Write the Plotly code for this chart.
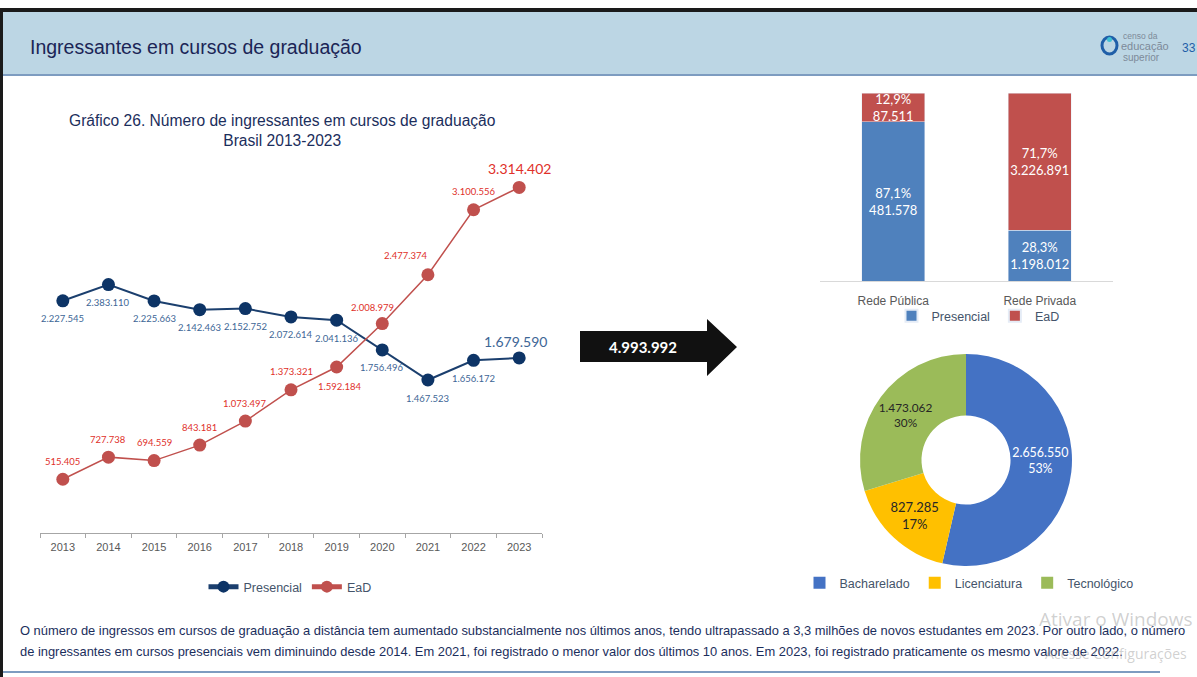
import plotly.graph_objects as go

W, H = 1197, 677

# ---------------- data ----------------
years = ["2013", "2014", "2015", "2016", "2017", "2018", "2019", "2020", "2021", "2022", "2023"]
presencial = [2227545, 2383110, 2225663, 2142463, 2152752, 2072614, 2041136, 1756496, 1467523, 1656172, 1679590]
ead = [515405, 727738, 694559, 843181, 1073497, 1373321, 1592184, 2008979, 2477374, 3100556, 3314402]

redes = ["Rede Pública", "Rede Privada"]
rede_presencial = [481578, 1198012]
rede_ead = [87511, 3226891]
rede_presencial_pct = ["87,1%", "28,3%"]
rede_ead_pct = ["12,9%", "71,7%"]

total_ingressantes = "4.993.992"

graus = ["Bacharelado", "Licenciatura", "Tecnológico"]
graus_valores = [2656550, 827285, 1473062]
graus_pct = ["53%", "17%", "30%"]


def br(n):
    return f"{n:,}".replace(",", ".")


def px(x):
    return x / W


def py(y):
    return 1 - y / H


NARROW = "Liberation Sans, Arial, sans-serif"
CAL = "Lato, Carlito, Calibri, sans-serif"
BLUE_LINE = "#1b3f6e"
RED_LINE = "#c0504d"
BLUE_TXT = "#3d6696"
RED_TXT = "#e0302a"

fig = go.Figure()

# ---------------- line chart ----------------
fig.add_trace(go.Scatter(
    x=years, y=presencial, mode="lines+markers", name="Presencial",
    line=dict(color=BLUE_LINE, width=2), marker=dict(color="#0d3466", size=13),
    xaxis="x", yaxis="y", legend="legend", hoverinfo="skip"))
fig.add_trace(go.Scatter(
    x=years, y=ead, mode="lines+markers", name="EaD",
    line=dict(color=RED_LINE, width=1.5), marker=dict(color=RED_LINE, size=13),
    xaxis="x", yaxis="y", legend="legend", hoverinfo="skip"))

annotations = []
pres_shift = {i: (0, -18) for i in range(len(years))}
pres_shift[10] = (-4, 16)
for i, v in enumerate(presencial):
    dx, dy = pres_shift[i]
    big = i == len(years) - 1
    annotations.append(dict(x=i, y=v, xref="x", yref="y", text=br(v), showarrow=False,
                            xshift=dx, yshift=dy,
                            font=dict(family=CAL, size=14 if big else 9.5, color=BLUE_TXT)))
ead_shift = {i: (0, 18) for i in range(len(years))}
ead_shift[6] = (3, -19)
ead_shift[7] = (-10, 16)
ead_shift[8] = (-22, 19)
ead_shift[10] = (0, 19)
for i, v in enumerate(ead):
    dx, dy = ead_shift[i]
    big = i == len(years) - 1
    annotations.append(dict(x=i, y=v, xref="x", yref="y", text=br(v), showarrow=False,
                            xshift=dx, yshift=dy,
                            font=dict(family=CAL, size=14 if big else 9.5, color=RED_TXT)))

# ---------------- stacked bars ----------------
fig.add_trace(go.Bar(
    x=redes, y=rede_presencial, name="Presencial", marker=dict(color="#4f81bd"),
    text=[f"{p}<br>{br(v)}" for p, v in zip(rede_presencial_pct, rede_presencial)],
    textposition="inside", insidetextanchor="middle", constraintext="none", textangle=0,
    textfont=dict(family=CAL, size=13, color="white"),
    xaxis="x2", yaxis="y2", legend="legend2", width=0.43, hoverinfo="skip"))
fig.add_trace(go.Bar(
    x=redes, y=rede_ead, name="EaD", marker=dict(color="#c0504d"),
    text=[f"{p}<br>{br(v)}" for p, v in zip(rede_ead_pct, rede_ead)],
    textposition="inside", insidetextanchor="middle", constraintext="none", textangle=0,
    textfont=dict(family=CAL, size=13, color="white"),
    xaxis="x2", yaxis="y2", legend="legend2", width=0.43, hoverinfo="skip"))

# ---------------- donut ----------------
fig.add_trace(go.Pie(
    labels=graus, values=graus_valores, hole=0.42, sort=False, direction="clockwise",
    rotation=0, marker=dict(colors=["#4472c4", "#ffc000", "#9bbb59"]),
    text=[f"{br(v)}<br>{p}" for v, p in zip(graus_valores, graus_pct)],
    textinfo="text", textposition="inside", insidetextorientation="horizontal",
    textfont=dict(family=CAL, size=13, color=["white", "#262626", "#262626"]),
    domain=dict(x=[px(860), px(1072)], y=[py(567), py(353)]),
    legend="legend3", hoverinfo="skip", showlegend=True))

# ---------------- decorations ----------------
shapes = [
    dict(type="rect", xref="paper", yref="paper", x0=0, x1=1, y0=py(75), y1=py(11),
         fillcolor="#bcd6e4", line=dict(width=0), layer="below"),
    dict(type="rect", xref="paper", yref="paper", x0=0, x1=1, y0=py(12), y1=py(8),
         fillcolor="#1a1a1a", line=dict(width=0), layer="below"),
    dict(type="line", xref="paper", yref="paper", x0=0, x1=1, y0=py(75), y1=py(75),
         line=dict(color="#7d9cc0", width=2)),
    dict(type="rect", xref="paper", yref="paper", x0=0, x1=px(3), y0=0, y1=py(8),
         fillcolor="#1a1a1a", line=dict(width=0)),
    dict(type="line", xref="paper", yref="paper", x0=px(3), x1=px(1160), y0=py(672), y1=py(672),
         line=dict(color="#7d9cc0", width=2)),
    dict(type="path", xref="paper", yref="paper",
         path=(f"M {px(580)},{py(331)} L {px(707)},{py(331)} L {px(707)},{py(319)} "
               f"L {px(737)},{py(347)} L {px(707)},{py(376)} L {px(707)},{py(362)} "
               f"L {px(580)},{py(362)} Z"),
         fillcolor="#111111", line=dict(width=0)),
    dict(type="circle", xref="paper", yref="paper", x0=px(1102), x1=px(1117), y0=py(54), y1=py(37),
         line=dict(color="#1f5fa8", width=3)),
    dict(type="circle", xref="paper", yref="paper", x0=px(1107), x1=px(1112), y0=py(42), y1=py(37),
         fillcolor="#3ec1d3", line=dict(width=0)),
]

annotations += [
    dict(x=px(28), y=py(47), xref="paper", yref="paper", xanchor="left", yanchor="middle",
         text="Ingressantes em cursos de graduação", showarrow=False,
         font=dict(family=NARROW, size=19.5, color="#1b2556")),
    dict(x=px(282), y=py(130), xref="paper", yref="paper", xanchor="center", yanchor="middle",
         text="Gráfico 26. Número de ingressantes em cursos de graduação<br>Brasil 2013-2023",
         showarrow=False, font=dict(family=NARROW, size=15.6, color="#1b2e5c")),
    dict(x=px(643), y=py(347), xref="paper", yref="paper", xanchor="center", yanchor="middle",
         text=f"<b>{total_ingressantes}</b>", showarrow=False,
         font=dict(family=CAL, size=15, color="white")),
    dict(x=px(1121), y=py(36), xref="paper", yref="paper", xanchor="left", yanchor="middle",
         text="censo da", showarrow=False, font=dict(family="Liberation Sans", size=8.5, color="#7c8a99")),
    dict(x=px(1119), y=py(46), xref="paper", yref="paper", xanchor="left", yanchor="middle",
         text="educação", showarrow=False, font=dict(family="Liberation Sans", size=11, color="#7c8a99")),
    dict(x=px(1121), y=py(57), xref="paper", yref="paper", xanchor="left", yanchor="middle",
         text="superior", showarrow=False, font=dict(family="Liberation Sans", size=10, color="#7c8a99")),
    dict(x=px(1180), y=py(48), xref="paper", yref="paper", xanchor="left", yanchor="middle",
         text="33", showarrow=False, font=dict(family="Liberation Sans", size=12, color="#1f5fa8")),
    dict(x=px(18), y=py(630), xref="paper", yref="paper", xanchor="left", yanchor="middle",
         text=("O número de ingressos em cursos de graduação a distância tem aumentado substancialmente nos "
               "últimos anos, tendo ultrapassado a 3,3 milhões de novos estudantes em 2023. Por outro lado, o número"),
         showarrow=False, font=dict(family=NARROW, size=12.9, color="#1b2e5c")),
    dict(x=px(18), y=py(651), xref="paper", yref="paper", xanchor="left", yanchor="middle",
         text=("de ingressantes em cursos presenciais vem diminuindo desde 2014. Em 2021, foi registrado o menor "
               "valor dos últimos 10 anos. Em 2023, foi registrado praticamente os mesmo valore de 2022."),
         showarrow=False, font=dict(family=NARROW, size=12.9, color="#1b2e5c")),
    dict(x=px(1037), y=py(619), xref="paper", yref="paper", xanchor="left", yanchor="middle",
         text="Ativar o Windows", showarrow=False,
         font=dict(family="Open Sans", size=19, color="rgba(150,150,150,0.45)")),
    dict(x=px(1043), y=py(653), xref="paper", yref="paper", xanchor="left", yanchor="middle",
         text="Acesse Configurações", showarrow=False,
         font=dict(family="Open Sans", size=14, color="rgba(150,150,150,0.45)")),
]

legend_common = dict(orientation="h", xanchor="center", yanchor="middle", bgcolor="rgba(0,0,0,0)",
                     font=dict(family=NARROW, size=12.5, color="#44546a"), itemsizing="constant",
                     traceorder="normal", itemwidth=30)

fig.update_layout(
    width=W, height=H, autosize=False,
    margin=dict(l=0, r=0, t=0, b=0),
    paper_bgcolor="white", plot_bgcolor="rgba(0,0,0,0)",
    barmode="stack", barnorm="percent",
    showlegend=True,
    xaxis=dict(domain=[px(40), px(542)], type="category", range=[-0.5, 10.5], autorange=False,
               showgrid=False, zeroline=False,
               showline=True, linecolor="#a6a6a6", linewidth=1,
               ticks="outside", tickson="boundaries", ticklen=4, tickcolor="#a6a6a6",
               ticklabelstandoff=4,
               tickfont=dict(family=NARROW, size=11, color="#595959"), anchor="y"),
    yaxis=dict(domain=[py(533), py(116)], range=[0, 4000000], autorange=False, visible=False, anchor="x"),
    xaxis2=dict(domain=[px(820), px(1113)], type="category", showgrid=False, zeroline=False,
                showline=True, linecolor="#d9d9d9", linewidth=1, ticks="",
                ticklabelstandoff=9,
                tickfont=dict(family=NARROW, size=12, color="#595959"), anchor="y2"),
    yaxis2=dict(domain=[py(281), py(93)], range=[0, 100], autorange=False, visible=False, anchor="x2"),
    legend=dict(x=px(290), y=py(587), **legend_common),
    legend2=dict(x=px(978), y=py(316), **legend_common),
    legend3=dict(x=px(969), y=py(583), **legend_common),
    shapes=shapes,
    annotations=annotations,
)

fig.write_html("out.html", config={"displayModeBar": False},
               post_script="document.body.style.margin='0';document.body.style.overflow='hidden';")
